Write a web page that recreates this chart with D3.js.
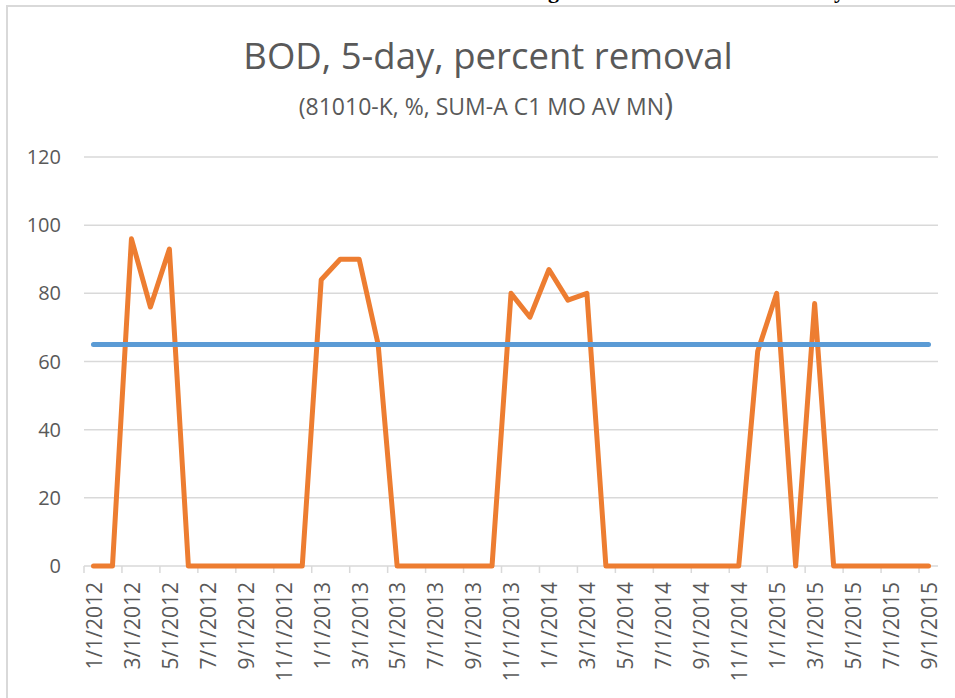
<!DOCTYPE html>
<html lang="en">
<head>
  <meta charset="UTF-8">
  <title>BOD, 5-day, percent removal</title>
  <style>
    body { margin: 0; background: #fff; }
    svg text { font-family: "Open Sans", sans-serif; fill: #595959; }
  </style>
</head>
<body>

<svg width="955" height="698"></svg>

<script src="https://d3js.org/d3.v7.min.js"></script>
<script>

// monthly labels, 1/1/2012 .. 9/1/2015
let months = [];
for (let y = 2012; y <= 2015; y++) {
  for (let m = 1; m <= 12; m++) {
    if (y == 2015 && m > 9) break;
    months.push(m + "/1/" + y);
  }
}

// percent removal, one value per month
let removal = [0, 0, 96, 76, 93, 0, 0, 0, 0, 0, 0, 0,
               84, 90, 90, 65, 0, 0, 0, 0, 0, 0, 80, 73,
               87, 78, 80, 0, 0, 0, 0, 0, 0, 0, 0, 63,
               80, 0, 77, 0, 0, 0, 0, 0, 0];

// permit limit line
let limit = months.map(() => 65);

let yTicks = [0, 20, 40, 60, 80, 100, 120];

let width = 955, height = 698;
let svg = d3.select("svg");

// chart frame
svg.append("rect")
    .attr("x", 7).attr("y", 6)
    .attr("width", 980).attr("height", 720)
    .attr("fill", "none")
    .attr("stroke", "#d9d9d9")
    .attr("stroke-width", 2);

// bits of the document heading above the chart (cut off)
svg.append("text").attr("x", 548).attr("y", -2)
    .style("font-family", "'Liberation Serif', serif").style("font-weight", "bold")
    .style("font-size", "22px").style("fill", "#000").text("g");
svg.append("text").attr("x", 834).attr("y", -2)
    .style("font-family", "'Liberation Serif', serif").style("font-weight", "bold")
    .style("font-size", "22px").style("fill", "#000").text("y");

let x = d3.scaleBand().domain(months).range([84, 938]).padding(0);
let y = d3.scaleLinear().domain([0, 120]).range([566, 157]);

// title
svg.append("text")
    .attr("x", 488).attr("y", 69)
    .attr("text-anchor", "middle")
    .style("font-size", "36.5px")
    .text("BOD, 5-day, percent removal");

let sub = svg.append("text")
    .attr("x", 486).attr("y", 115)
    .attr("text-anchor", "middle")
    .style("font-size", "23px");
sub.append("tspan").text("(81010-K, %, SUM-A C1 MO AV MN");
sub.append("tspan").style("font-size", "31px").text(")");

// gridlines
svg.append("g")
    .selectAll("line")
    .data(yTicks)
    .enter()
    .append("line")
    .attr("x1", 84).attr("x2", 938)
    .attr("y1", d => y(d)).attr("y2", d => y(d))
    .attr("stroke", "#d9d9d9")
    .attr("stroke-width", 1.5);

// y labels
svg.append("g")
    .selectAll("text")
    .data(yTicks)
    .enter()
    .append("text")
    .attr("x", 61)
    .attr("y", d => y(d))
    .attr("dy", "0.35em")
    .attr("text-anchor", "end")
    .style("font-size", "20px")
    .text(d => d);

// x ticks at every second month boundary
let tickMonths = months.filter((d, i) => i % 2 == 0);
svg.append("g")
    .selectAll("line")
    .data(tickMonths)
    .enter()
    .append("line")
    .attr("x1", d => x(d)).attr("x2", d => x(d))
    .attr("y1", 566).attr("y2", 573)
    .attr("stroke", "#d9d9d9")
    .attr("stroke-width", 1.5);

// x labels, rotated
svg.append("g")
    .selectAll("text")
    .data(tickMonths)
    .enter()
    .append("text")
    .attr("transform", d => "translate(" + (x(d) + x.bandwidth() / 2 + 1) + ",582) rotate(-90)")
    .attr("dy", "0.35em")
    .attr("text-anchor", "end")
    .style("font-size", "21px")
    .text(d => d);

let line = d3.line()
    .x((d, i) => x(months[i]) + x.bandwidth() / 2)
    .y(d => y(d));

svg.append("path")
    .datum(removal)
    .attr("d", line)
    .attr("fill", "none")
    .attr("stroke", "#ED7D31")
    .attr("stroke-width", 5)
    .attr("stroke-linejoin", "round")
    .attr("stroke-linecap", "round");

svg.append("path")
    .datum(limit)
    .attr("d", line)
    .attr("fill", "none")
    .attr("stroke", "#5B9BD5")
    .attr("stroke-width", 5)
    .attr("stroke-linecap", "round");

</script>

</body>
</html>
